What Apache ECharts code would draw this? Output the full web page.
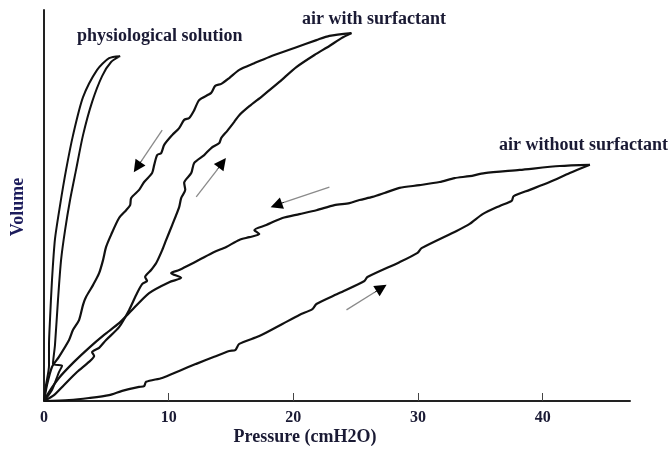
<!DOCTYPE html>
<html>
<head>
<meta charset="utf-8">
<style>
html,body{margin:0;padding:0;background:#fff;}
#chart{width:670px;height:454px;}
</style>
<script src="https://cdn.jsdelivr.net/npm/echarts@6/dist/echarts.min.js"></script>
</head>
<body>
<div id="chart"></div>
<script>
// Pressure (cmH2O) vs Volume (arbitrary units, 0-100)
var xTickLabels = [0, 10, 20, 30, 40];
var xTickMarks = [10, 20, 30, 40];

var physioSolution = [
  [0,0],[0.64,2.8],[1.2,7.4],[1.45,9.0],[0.72,9.5],[0.88,14.3],[1.12,25.8],[1.37,36.1],
  [1.69,43.7],[2.09,51.4],[2.57,59.1],[3.13,68.0],[3.86,76.5],[4.66,83.1],[5.38,86.7],[6.1,88.2],
  [5.22,87.7],[4.26,84.7],[3.13,77.7],[2.33,68.0],[1.77,59.1],[1.29,50.1],[0.88,41.4],
  [0.64,30.9],[0.48,20.7],[0.4,14.3],[0.4,9.0],[0.16,4.1],[0,0]
];

var surfactantInflation = [
  [0,0],[0.8,1.5],[1.61,4.1],[2.65,7.4],[3.61,10.0],[4.02,11.5],[3.86,12.5],[4.42,13.6],
  [4.98,15.6],[6.02,18.9],[6.83,23.3],[7.39,27.1],[7.87,29.9],[8.27,30.7],[8.11,31.7],
  [8.59,33.5],[9.0,35.3],[9.48,38.6],[9.8,41.2],[10.28,45.0],[10.84,49.6],[11.0,51.9],
  [11.33,54.0],[11.24,55.8],[11.81,58.3],[12.05,60.9],[12.85,62.9],[13.41,64.7],[14.06,66.0],
  [14.22,67.3],[14.7,69.1],[15.26,71.4],[15.66,73.1],[16.47,75.4],[17.51,78.0],[18.88,81.6],
  [20.24,85.4],[21.69,88.5],[22.89,90.8],[23.86,92.8],[24.66,94.1]
];

var surfactantDeflation = [
  [24.66,94.1],[22.89,93.4],[21.85,92.3],[20.08,90.3],[18.07,88.0],[16.87,86.4],[15.66,84.7],
  [14.86,82.6],[14.22,81.1],[13.73,80.6],[13.41,78.8],[12.45,77.0],[12.05,74.4],[11.65,72.4],
  [11.24,71.9],[10.84,69.8],[10.28,68.0],[9.64,65.5],[9.4,63.4],[9.08,62.9],[8.84,60.4],
  [8.67,58.3],[8.03,56.0],[7.63,54.0],[6.99,51.9],[6.91,50.1],[6.59,48.8],[6.02,46.8],
  [5.38,42.5],[4.98,39.4],[4.74,36.1],[4.42,32.7],[3.94,29.7],[3.37,26.6],[3.13,24.6],
  [2.81,20.7],[2.33,18.2],[2.01,15.6],[1.2,11.3],[0.64,8.7],[0.24,4.1],[0,0]
];

var noSurfactantInflation = [
  [0,0],[2.01,0.26],[3.61,0.77],[5.22,1.5],[6.27,2.6],[7.63,3.6],[8.03,3.8],[8.19,4.9],
  [9.48,5.9],[10.84,7.7],[12.21,9.5],[13.65,11.3],[14.86,12.8],[15.34,13.0],[15.66,14.6],
  [17.27,16.6],[19.12,19.7],[20.48,22.0],[21.53,23.5],[21.85,24.8],[23.69,27.6],[25.7,30.7],
  [25.94,31.7],[28.51,35.5],[29.96,37.9],[30.28,39.1],[33.09,43.5],[34.14,45.3],[35.18,47.8],
  [36.55,49.9],[37.51,51.2],[37.67,52.4],[38.96,54.0],[40.56,56.0],[42.17,58.3],[43.78,60.4]
];

var noSurfactantDeflation = [
  [43.78,60.4],[41.37,60.1],[38.15,59.1],[35.34,58.3],[34.14,57.5],[32.93,57.0],[31.73,56.0],
  [30.12,55.2],[28.51,54.5],[27.31,53.2],[26.35,52.2],[25.3,51.4],[24.5,50.6],[23.29,50.1],
  [21.85,48.8],[20.48,47.8],[19.12,46.8],[17.83,45.0],[16.87,43.7],[17.27,42.7],[16.47,41.9],
  [15.66,41.2],[14.62,39.4],[13.65,38.1],[12.45,36.1],[11.65,34.8],[10.84,33.5],[10.2,32.7],
  [11.0,31.5],[10.04,30.4],[8.43,27.6],[6.83,22.5],[6.02,19.9],[4.82,16.9],[3.61,13.6],
  [2.41,10.0],[1.2,5.9],[0.4,2.3],[0,0]
];

// direction arrows: tail, head base, tip (data units)
var arrowTails = [[9.48,69.3],[12.21,52.2],[22.89,54.7],[24.26,23.3]];
var arrowBases = [[7.83,61.5],[13.9,59.2],[19.24,50.8],[26.52,27.8]];
var arrowTips  = [[7.47,59.8],[14.3,60.9],[18.63,50.1],[27.07,28.9]];

var labelFont = 'bold 18px "Liberation Serif", "Times New Roman", serif';
var textColor = '#1a1a34';

function curve(name, data, w) {
  return {
    name: name, type: 'line', data: data, showSymbol: false, smooth: 0.25,
    lineStyle: { color: '#111', width: w || 2.2 }, silent: true, z: 3
  };
}

var chart = echarts.init(document.getElementById('chart'), null, { renderer: 'canvas' });
chart.setOption({
  animation: false,
  backgroundColor: '#fff',
  grid: { left: 44, right: 40, top: 10, bottom: 53 },
  xAxis: {
    type: 'value', min: 0, max: 47, interval: 10,
    axisLine: { show: true, lineStyle: { color: '#222', width: 2 } },
    axisTick: { show: true, inside: true, length: 8, customValues: xTickMarks, lineStyle: { color: '#444', width: 1 } },
    axisLabel: { customValues: xTickLabels, margin: 9, color: textColor, fontSize: 16, fontWeight: 'bold', fontFamily: '"Liberation Serif", serif' },
    splitLine: { show: false }
  },
  yAxis: {
    type: 'value', min: 0, max: 100,
    axisLine: { show: true, lineStyle: { color: '#222', width: 2 } },
    axisTick: { show: false }, axisLabel: { show: false }, splitLine: { show: false }
  },
  series: [
    curve('physiological solution', physioSolution, 2),
    curve('air with surfactant (inflation)', surfactantInflation),
    curve('air with surfactant (deflation)', surfactantDeflation),
    curve('air without surfactant (inflation)', noSurfactantInflation),
    curve('air without surfactant (deflation)', noSurfactantDeflation),
    {
      type: 'lines', coordinateSystem: 'cartesian2d', silent: true, z: 4,
      symbol: ['none', 'none'],
      lineStyle: { color: '#8a8a8a', width: 1.3, opacity: 1 },
      data: arrowTails.map(function (t, i) { return { coords: [t, arrowBases[i]] }; })
    },
    {
      type: 'lines', coordinateSystem: 'cartesian2d', silent: true, z: 5,
      symbol: ['none', 'triangle'], symbolSize: [11, 12],
      lineStyle: { color: '#000', width: 1, opacity: 1 },
      data: arrowBases.map(function (b, i) { return { coords: [b, arrowTips[i]] }; })
    }
  ],
  graphic: [
    { type: 'text', left: 77, top: 27, style: { text: 'physiological solution', font: labelFont, fill: textColor } },
    { type: 'text', left: 302, top: 10, style: { text: 'air with surfactant', font: labelFont, fill: textColor } },
    { type: 'text', left: 499, top: 136, style: { text: 'air without surfactant', font: labelFont, fill: textColor } },
    { type: 'text', x: 305, y: 437, style: { text: 'Pressure (cmH2O)', font: labelFont, fill: textColor, align: 'center', verticalAlign: 'middle' } },
    { type: 'text', x: 18, y: 207, rotation: Math.PI / 2,
      style: { text: 'Volume', font: labelFont, fill: '#1c1c5c', align: 'center', verticalAlign: 'middle' } }
  ]
});
</script>
</body>
</html>
